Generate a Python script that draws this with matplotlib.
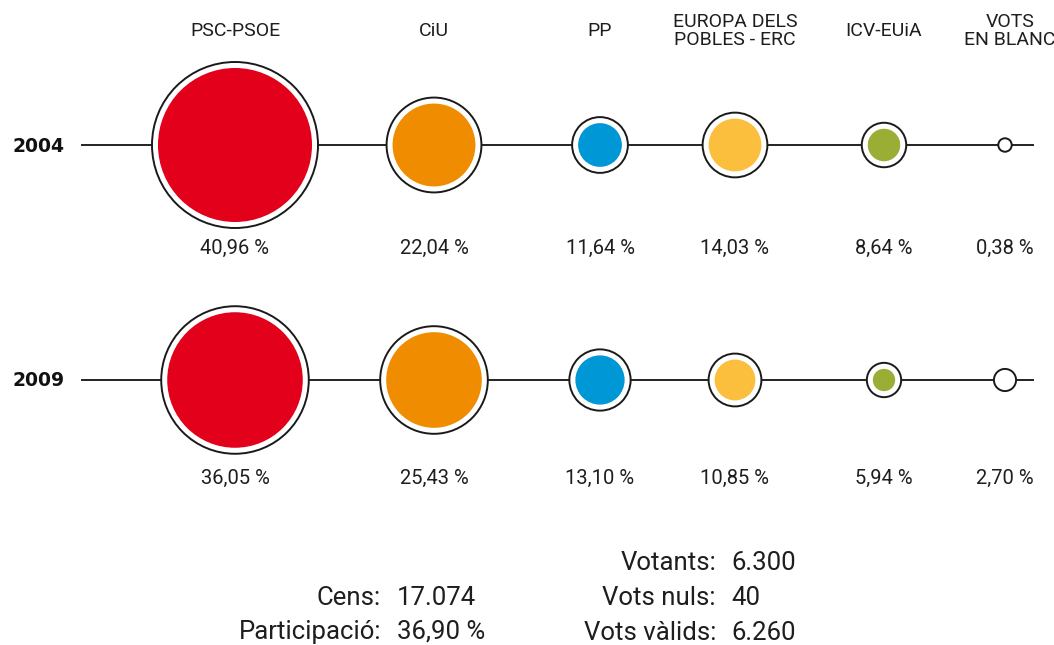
import matplotlib.pyplot as plt
from matplotlib.patches import Circle

# parties / data
parties = ['PSC-PSOE', 'CiU', 'PP', 'EUROPA DELS\nPOBLES - ERC', 'ICV-EUiA', 'VOTS\nEN BLANC']
colors = ['#E2001A', '#F08C00', '#0097D6', '#FBBF3D', '#9AAD35', '#FFFFFF']
years = ['2004', '2009']
pct_2004 = [40.96, 22.04, 11.64, 14.03, 8.64, 0.38]
pct_2009 = [36.05, 25.43, 13.10, 10.85, 5.94, 2.70]

stats_left = [('Cens:', '17.074'), ('Participació:', '36,90 %')]
stats_right = [('Votants:', '6.300'), ('Vots nuls:', '40'), ('Vots vàlids:', '6.260')]

plt.rcParams['font.family'] = ['Roboto', 'DejaVu Sans']
TXT = '#1e1e1e'

fig = plt.figure(figsize=(10.54, 6.45), dpi=100)
ax = fig.add_axes([0, 0, 1, 1])
ax.set_xlim(0, 1054)
ax.set_ylim(645, 0)
ax.axis('off')

xs = [235, 434, 600, 735, 884, 1005]
row_y = [145, 380]
label_y = [248, 478]
scale = 1.88   # px radius per percentage point
gap = 6

for yi, vals in enumerate([pct_2004, pct_2009]):
    y = row_y[yi]
    ax.plot([82, 1033], [y, y], color='#222222', lw=1.4, zorder=1)
    ax.text(12, y + 1, years[yi], ha='left', va='center', fontsize=13.5,
            fontweight='bold', family=['DejaVu Sans'], color='#111111')
    for x, v, c in zip(xs, vals, colors):
        r = v * scale
        ax.add_patch(Circle((x, y), r + gap, facecolor='white', edgecolor='#1a1a1a',
                            lw=1.4, zorder=2))
        ax.add_patch(Circle((x, y), r, facecolor=c, edgecolor='none', zorder=3))
        ax.text(x, label_y[yi], ('%.2f %%' % v).replace('.', ','), ha='center',
                va='center', fontsize=14.5, color=TXT)

for x, name in zip(xs, parties):
    ax.text(x + (5 if 'BLANC' in name else 0), 31, name, ha='center', va='center',
            fontsize=14, color=TXT, linespacing=1.05)

for i, (k, v) in enumerate(stats_left):
    y = 598 + i * 34
    ax.text(381, y, k, ha='right', va='center', fontsize=18.5, color=TXT)
    ax.text(397, y, v, ha='left', va='center', fontsize=18.5, color=TXT)
for i, (k, v) in enumerate(stats_right):
    y = 563 + i * 35
    ax.text(716, y, k, ha='right', va='center', fontsize=18.5, color=TXT)
    ax.text(731, y, v, ha='left', va='center', fontsize=18.5, color=TXT)

fig.savefig('out.png', dpi=100)
